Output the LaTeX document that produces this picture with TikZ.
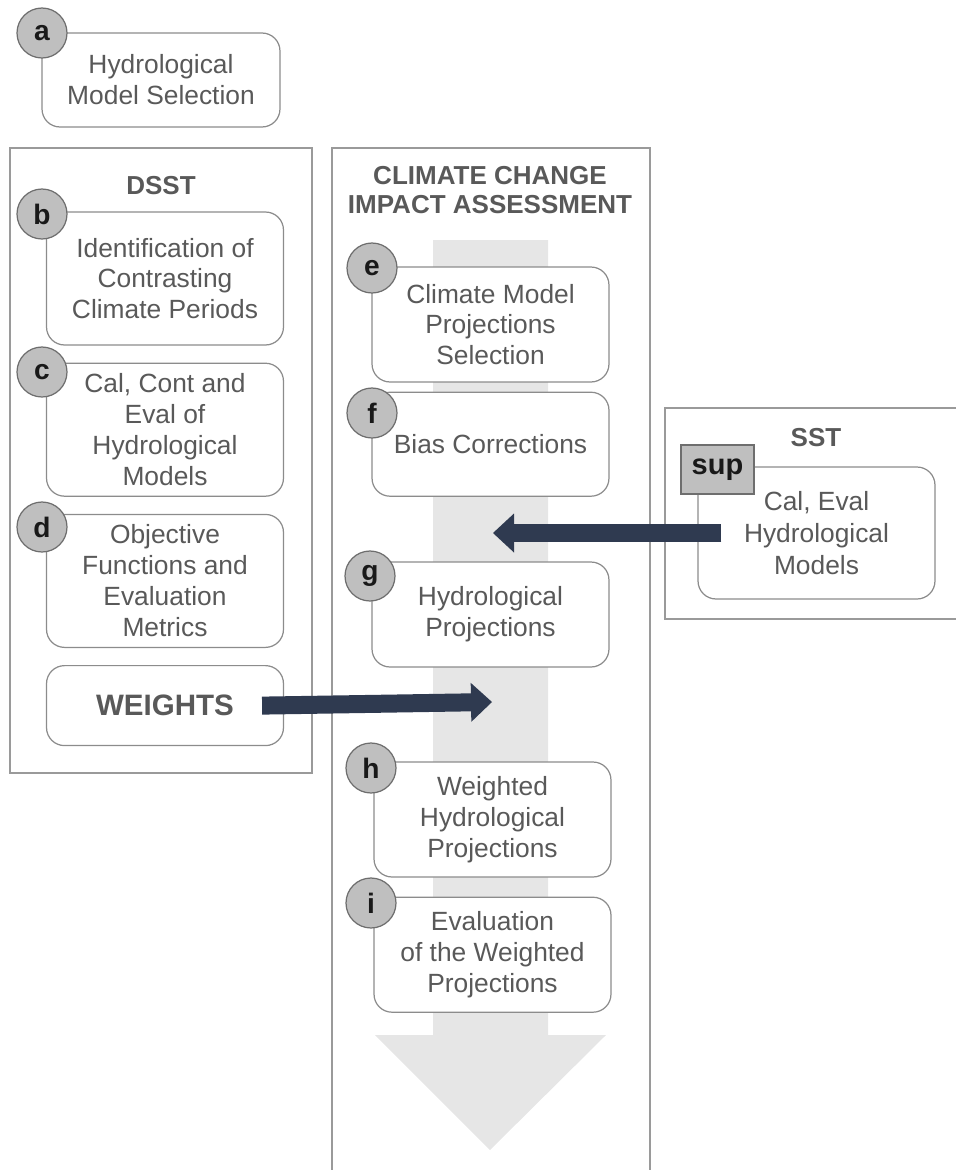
\documentclass[tikz,border=0pt]{standalone}
\usepackage{fontspec}
\setmainfont{Liberation Sans}
\usetikzlibrary{arrows.meta,positioning}
\definecolor{txtgray}{HTML}{595959}
\definecolor{boxline}{HTML}{8C8C8C}
\definecolor{panelline}{HTML}{9A9A9A}
\definecolor{tagfill}{HTML}{BFBFBF}
\definecolor{tagline}{HTML}{6E6E6E}
\definecolor{navy}{RGB}{47,58,80}
\definecolor{flowgray}{HTML}{E6E6E6}

\begin{document}
\begin{tikzpicture}[x=0.02cm,y=-0.02cm,
  box/.style={draw=boxline,fill=white,rounded corners=0.36cm,line width=0.7pt,
    align=center,text=txtgray,inner sep=0pt,minimum width=4.74cm,
    font=\fontsize{15}{17.6}\selectfont},
  tag/.style={circle,draw=tagline,fill=tagfill,line width=0.7pt,minimum size=1cm,
    inner sep=0pt,text=black!90,font=\fontsize{16}{16}\selectfont\bfseries},
  panel/.style={draw=panelline,line width=0.8pt},
  head/.style={text=txtgray,align=center,font=\fontsize{14.8}{16.2}\selectfont\bfseries},
  feed/.style={draw=navy,line width=0.36cm,
    -{Triangle[width=0.78cm,length=0.42cm,line width=0pt]}}]
\useasboundingbox (0,0) rectangle (956,1170);

% panels
\draw[panel] (10,148) rectangle (312,773);
\draw[panel] (332,1172) -- (332,148) -- (650,148) -- (650,1172);
\draw[panel] (958,408) -- (665,408) -- (665,619) -- (958,619);

% flow arrow behind the steps
\fill[flowgray] (433,240) -- (548,240) -- (548,1035) -- (606,1035) -- (490,1150)
  -- (375,1035) -- (433,1035) -- cycle;

\node[head] (dsst) at (161,186) {DSST};
\node[head] (ccia) at (490,190) {CLIMATE CHANGE\\IMPACT ASSESSMENT};
\node[head] (sst) at (816,438) {SST};

\node[box,minimum width=4.76cm,minimum height=1.88cm] (sel) at (161,80)
  {Hydrological\\Model Selection};
\node[box,minimum height=2.66cm] (per) at (165,278.5)
  {Identification of\\Contrasting\\Climate Periods};
\node[box,minimum height=2.66cm,below=0.34cm of per] (cal)
  {Cal, Cont and\\Eval of\\Hydrological\\Models};
\node[box,minimum height=2.66cm,below=0.34cm of cal] (obj)
  {Objective\\Functions and\\Evaluation\\Metrics};
\node[box,minimum height=1.6cm,below=0.34cm of obj,
  font=\fontsize{16.8}{18}\selectfont\bfseries] (wt) {WEIGHTS};

\node[box,minimum height=2.3cm] (gcm) at (490.5,324.5)
  {Climate Model\\Projections\\Selection};
\node[box,minimum height=2.08cm,below=0.18cm of gcm] (bias) {Bias Corrections};
\node[box,minimum height=2.1cm] (hyd) at (490.5,614.5) {Hydrological\\Projections};
\node[box,minimum height=2.3cm] (wgt) at (492.5,819.5)
  {Weighted\\Hydrological\\Projections};
\node[box,minimum height=2.3cm,below=0.38cm of wgt] (ev)
  {Evaluation\\of the Weighted\\Projections};

\node[box,minimum height=2.64cm,font=\fontsize{15}{18.2}\selectfont] (sstm) at (816.5,533)
  {Cal, Eval\\Hydrological\\Models};
\node[draw=tagline,fill=tagfill,line width=0.7pt,minimum width=1.46cm,minimum height=0.98cm,
  inner sep=0pt,text=black!90,font=\fontsize{16.5}{16.5}\selectfont\bfseries] (sup)
  at (717.5,469.5) {sup};

% step letters
\node[tag] (ta) at (42,33) {a};
\node[tag] (tb) at (42,214) {b};
\node[tag] (tc) at (42,372) {c};
\node[tag] (td) at (42,527) {d};
\node[tag] (te) at (372,268) {e};
\node[tag] (tf) at (372,413) {f};
\node[tag] (tg) at (370,576) {g};
\node[tag] (th) at (371,768) {h};
\node[tag] (ti) at (371,903) {i};

% inputs into the assessment
\coordinate (wtip) at (492,702);
\draw[feed] ([xshift=-0.44cm]wt.east) -- (wtip);
\coordinate (stip) at (493,533);
\draw[feed] ([xshift=0.48cm]sstm.west) -- (stip);
\end{tikzpicture}
\end{document}
